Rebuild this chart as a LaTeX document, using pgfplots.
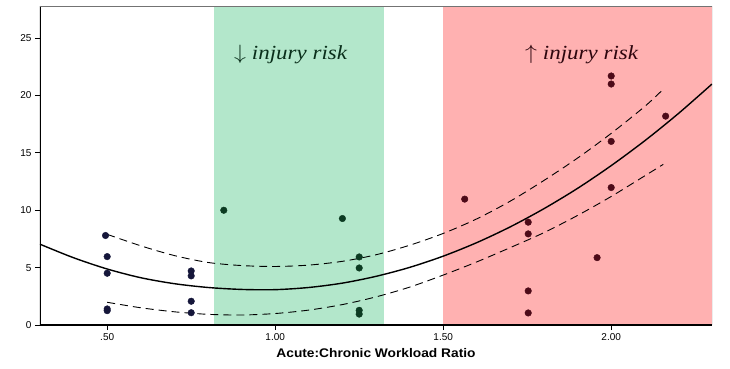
\documentclass[border=0pt]{standalone}
\usepackage{pgfplots}
\pgfplotsset{compat=1.18}
\usepackage{fontspec}
\setmainfont{Liberation Serif}
\newfontfamily\sans{Liberation Sans}
\definecolor{greenband}{HTML}{B3E7CB}
\definecolor{redband}{HTML}{FFB1B1}
\definecolor{dotW}{HTML}{15163A}
\definecolor{dotG}{HTML}{0C3B22}
\definecolor{dotR}{HTML}{4D0A18}
\begin{document}
\begin{tikzpicture}
\begin{axis}[
  scale only axis, width=672pt, height=319pt,
  xmin=0.3, xmax=2.3, ymin=0, ymax=27.8,
  axis line style={draw=none},
  xtick={0.5,1,1.5,2}, xticklabels={.50,1.00,1.50,2.00},
  ytick={0,5,10,15,20,25},
  xtick pos=left, ytick pos=left,
  tick align=outside, major tick length=5pt,
  tick style={black, line width=1pt},
  /pgf/number format/assume math mode=true,
  ticklabel style={font=\sans\fontsize{10}{11}\selectfont, text=black},
  xlabel={\scalebox{1.1}[1]{\sans\bfseries\fontsize{12.5}{14}\selectfont Acute:Chronic Workload Ratio}},
  xlabel style={at={(axis description cs:0.5,0)}, anchor=center, yshift=-28pt},
  clip=true,
]
% bands
\addplot[draw=none, fill=greenband] coordinates {(0.818,0) (0.818,27.8) (1.324,27.8) (1.324,0)} -- cycle;
\addplot[draw=none, fill=redband] coordinates {(1.499,0) (1.499,27.8) (2.3,27.8) (2.3,0)} -- cycle;
% fitted curve
\addplot[black, line width=1.4pt, smooth] coordinates {
(0.30,7.04) (0.40,5.86) (0.50,4.88) (0.60,4.12) (0.70,3.60) (0.80,3.27) (0.90,3.10)
(1.00,3.08) (1.10,3.27) (1.20,3.65) (1.30,4.24) (1.40,5.02) (1.50,6.00) (1.60,7.18)
(1.70,8.56) (1.80,10.14) (1.90,11.91) (2.00,13.89) (2.10,16.06) (2.20,18.43) (2.30,21.00)};
% upper CI
\addplot[black, line width=0.9pt, dash pattern=on 8pt off 5pt, smooth] coordinates {
(0.50,7.90) (0.60,6.90) (0.70,6.05) (0.80,5.45) (0.90,5.18) (1.00,5.10) (1.10,5.22)
(1.20,5.55) (1.30,6.12) (1.40,6.95) (1.50,7.98) (1.60,9.25) (1.70,10.80) (1.80,12.60)
(1.90,14.55) (2.00,16.70) (2.10,19.05) (2.155,20.55)};
% lower CI
\addplot[black, line width=0.9pt, dash pattern=on 8pt off 5pt, smooth] coordinates {
(0.50,1.98) (0.60,1.50) (0.70,1.15) (0.80,0.93) (0.90,0.87) (1.00,1.00) (1.10,1.30)
(1.20,1.78) (1.30,2.45) (1.40,3.30) (1.50,4.35) (1.60,5.50) (1.70,6.75) (1.80,8.05)
(1.90,9.55) (2.00,11.20) (2.10,13.00) (2.155,14.00)};
% points
\addplot[only marks, mark=*, mark size=3.3pt, color=dotW] coordinates {
(0.495,7.8) (0.5,5.96) (0.5,4.51) (0.5,1.4) (0.5,1.25)
(0.75,4.71) (0.75,4.28) (0.75,2.07) (0.75,1.07)};
\addplot[only marks, mark=*, mark size=3.3pt, color=dotG] coordinates {
(0.847,10.0) (1.20,9.28) (1.25,5.93) (1.25,4.97) (1.25,1.28) (1.25,0.95)};
\addplot[only marks, mark=*, mark size=3.3pt, color=dotR] coordinates {
(1.564,10.97) (1.753,8.96) (1.753,7.94) (1.753,2.97) (1.753,1.05) (1.958,5.87)
(2.0,11.98) (2.0,16.0) (2.0,21.0) (2.0,21.7) (2.162,18.2)};
% frame
\draw[black, line width=1.1pt] (rel axis cs:0,1) -- (rel axis cs:0,0) -- (rel axis cs:1,0);
\draw[black!55, line width=0.9pt] (rel axis cs:0,1) -- (rel axis cs:1,1);
\draw[black!60, line width=0.6pt] (rel axis cs:1,0) -- (rel axis cs:1,1);
% annotations
\node[text=dotG!80!black, font=\fontsize{20}{24}\selectfont] at (axis cs:1.046,23.6) {\scalebox{1.15}[1]{$\downarrow$\hspace{5pt}\itshape injury risk}};
\node[text=dotR!60!black, font=\fontsize{20}{24}\selectfont] at (axis cs:1.912,23.6) {\scalebox{1.15}[1]{$\uparrow$\hspace{5pt}\itshape injury risk}};
\coordinate (sw) at (rel axis cs:0,0);
\coordinate (ne) at (rel axis cs:1,1);
\end{axis}
\pgfresetboundingbox
\path[use as bounding box] ([shift={(-40pt,-44pt)}]sw) rectangle ([shift={(18pt,6pt)}]ne);
\end{tikzpicture}
\end{document}
